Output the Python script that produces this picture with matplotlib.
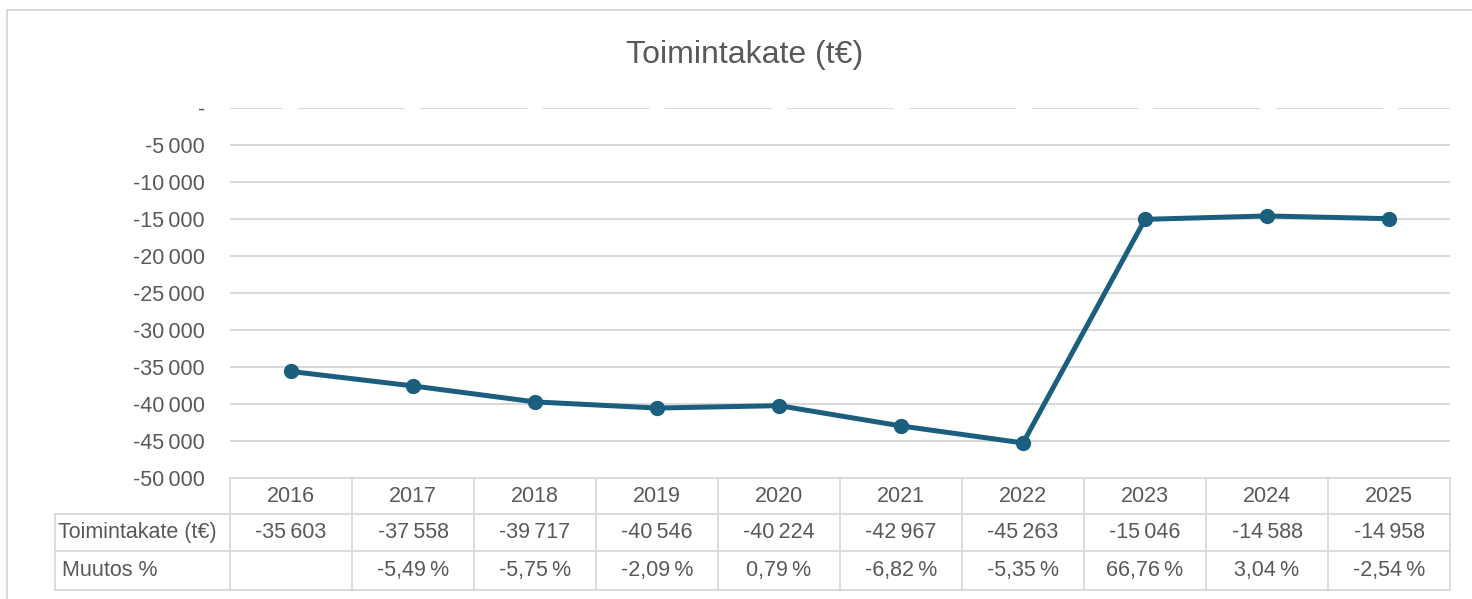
import matplotlib.pyplot as plt
import matplotlib.transforms as mtransforms
from matplotlib.ticker import FuncFormatter, MultipleLocator
from matplotlib.patches import Rectangle

plt.rcParams['font.family'] = ['Liberation Sans', 'DejaVu Sans']
plt.rcParams['lines.scale_dashes'] = False

years = [2016, 2017, 2018, 2019, 2020, 2021, 2022, 2023, 2024, 2025]
toimintakate = [-35603, -37558, -39717, -40546, -40224, -42967, -45263, -15046, -14588, -14958]
muutos = [None, -5.49, -5.75, -2.09, 0.79, -6.82, -5.35, 66.76, 3.04, -2.54]

line_color = '#1b5e7e'
text_color = '#595959'
grid_color = '#d9d9d9'
fs = 15.5


def fmt_thousands(v):
    v = int(round(v))
    if v == 0:
        return '-'
    s = f'{abs(v):,}'.replace(',', '\u2009')
    return ('-' if v < 0 else '') + s


def fmt_pct(v):
    if v is None:
        return ''
    return f'{v:.2f}'.replace('.', ',') + '\u2009%'


fig = plt.figure(figsize=(14.72, 5.99), dpi=100)
W, H = 1472, 599

# outer chart border
fig.patches.append(Rectangle((7 / W, -0.1), 1.2, 1 - 10 / H + 0.1, transform=fig.transFigure,
                             fill=False, edgecolor=grid_color, linewidth=1.5))

ax = fig.add_axes([230 / W, (H - 478) / H, (1450 - 230) / W, (478 - 108) / H])
x = list(range(len(years)))

ax.set_xlim(-0.5, len(years) - 0.5)
ax.set_ylim(-50000, 0)
ax.yaxis.set_major_locator(MultipleLocator(5000))
ax.yaxis.set_major_formatter(FuncFormatter(lambda v, p: fmt_thousands(v)))
ax.tick_params(axis='y', length=0, pad=18, labelsize=fs, labelcolor=text_color)
ax.set_xticks([])
for s in ax.spines.values():
    s.set_visible(False)

for t in range(-45000, 1, 5000):
    if t == 0:
        ax.axhline(t, color=grid_color, lw=1.5, zorder=1, linestyle=(39, (77, 11)))
    else:
        ax.axhline(t, color=grid_color, lw=1.5, zorder=1)

ax.plot(x, toimintakate, color=line_color, lw=3.6, marker='o', markersize=10,
        solid_joinstyle='round', zorder=3)

fig.text(745 / W, (H - 55) / H, 'Toimintakate (t€)', ha='center', va='center',
         fontsize=23, color=text_color)

# data table below the axis
tr = mtransforms.blended_transform_factory(ax.transData, ax.transAxes)
px = 1 / (478 - 108)
row_y = [0, -36 * px, -73 * px, -112 * px]
left_x = -0.5 - 175 / 122
right_x = len(years) - 0.5
lw = 1.3

# horizontal borders
ax.plot([-0.5, right_x], [row_y[0]] * 2, transform=tr, color=grid_color, lw=lw, clip_on=False)
for yy in row_y[1:]:
    ax.plot([left_x, right_x], [yy] * 2, transform=tr, color=grid_color, lw=lw, clip_on=False)
# vertical borders
ax.plot([left_x, left_x], [row_y[1], row_y[3]], transform=tr, color=grid_color, lw=lw, clip_on=False)
for i in range(len(years) + 1):
    ax.plot([i - 0.5, i - 0.5], [row_y[0], row_y[3]], transform=tr, color=grid_color, lw=lw,
            clip_on=False)

for i, yr in enumerate(years):
    ax.text(i, (row_y[0] + row_y[1]) / 2, str(yr), transform=tr, ha='center', va='center',
            fontsize=fs, color=text_color)
    ax.text(i, (row_y[1] + row_y[2]) / 2, fmt_thousands(toimintakate[i]), transform=tr,
            ha='center', va='center', fontsize=fs, color=text_color)
    ax.text(i, (row_y[2] + row_y[3]) / 2, fmt_pct(muutos[i]), transform=tr,
            ha='center', va='center', fontsize=fs, color=text_color)

ax.text(left_x + 3 / 122, (row_y[1] + row_y[2]) / 2, 'Toimintakate (t€)', transform=tr,
        ha='left', va='center', fontsize=fs, color=text_color)
ax.text(left_x + 7 / 122, (row_y[2] + row_y[3]) / 2, 'Muutos %', transform=tr,
        ha='left', va='center', fontsize=fs, color=text_color)

fig.savefig('out.png', dpi=100)
